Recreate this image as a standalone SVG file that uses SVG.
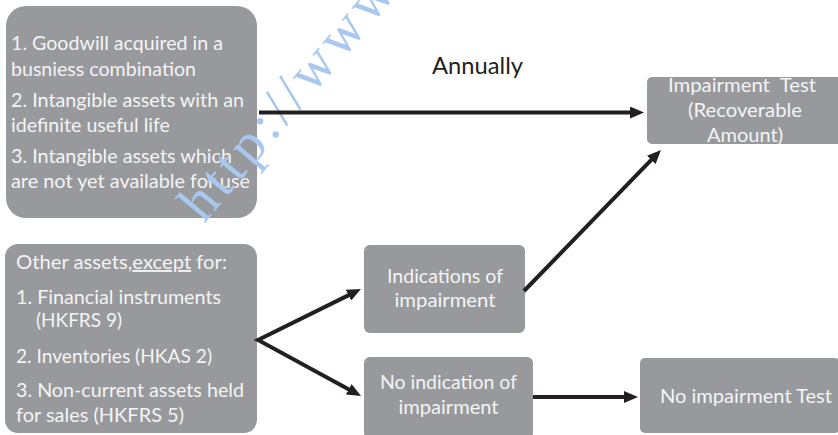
<svg xmlns="http://www.w3.org/2000/svg" width="838" height="435" viewBox="0 0 838 435">
<style>
.box{fill:#98999c}
.t{font-family:Lato,"Open Sans","Liberation Sans",sans-serif;font-size:19px;fill:#f4f4f4}
.c{text-anchor:middle}
.ln{stroke:#231f20;stroke-width:4;fill:none}
.wm{font-family:"Liberation Serif",serif;font-size:56px;fill:#a9c8f0}
</style>
<defs>
<marker id="ah" viewBox="0 0 14 12" refX="6" refY="6" markerWidth="14" markerHeight="12" markerUnits="userSpaceOnUse" orient="auto-start-reverse">
<path d="M0,0 L14,6 L0,12 z" fill="#231f20"/>
</marker>
</defs>
<rect width="838" height="435" fill="#ffffff"/>
<g id="node-annual-assets">
<rect class="box" x="6" y="6" width="251" height="212" rx="20"/>
<text class="t" x="11" y="50" textLength="212" lengthAdjust="spacingAndGlyphs">1. Goodwill acquired in a</text>
<text class="t" x="11" y="76" textLength="185" lengthAdjust="spacingAndGlyphs">busniess combination</text>
<text class="t" x="11" y="107" textLength="233" lengthAdjust="spacingAndGlyphs">2. Intangible assets with an</text>
<text class="t" x="11" y="132" textLength="159" lengthAdjust="spacingAndGlyphs">idefinite useful life</text>
<text class="t" x="11" y="163" textLength="221" lengthAdjust="spacingAndGlyphs">3. Intangible assets which</text>
<text class="t" x="11" y="188" textLength="239" lengthAdjust="spacingAndGlyphs">are not yet available for use</text>
</g>
<g id="node-other-assets">
<rect class="box" x="5" y="244" width="252" height="189" rx="13"/>
<text class="t" x="16" y="269" textLength="211" lengthAdjust="spacingAndGlyphs">Other assets,<tspan text-decoration="underline">except</tspan> for:</text>
<text class="t" x="16" y="304" textLength="205" lengthAdjust="spacingAndGlyphs">1. Financial instruments</text>
<text class="t" x="36" y="327" textLength="86" lengthAdjust="spacingAndGlyphs">(HKFRS 9)</text>
<text class="t" x="16" y="363" textLength="196" lengthAdjust="spacingAndGlyphs">2. Inventories (HKAS 2)</text>
<text class="t" x="16" y="397" textLength="228" lengthAdjust="spacingAndGlyphs">3. Non-current assets held</text>
<text class="t" x="16" y="422" textLength="168" lengthAdjust="spacingAndGlyphs">for sales (HKFRS 5)</text>
</g>
<g id="node-indications">
<rect class="box" x="364" y="245" width="161" height="88" rx="6"/>
<text class="t c" x="445" y="283" textLength="116" lengthAdjust="spacingAndGlyphs">Indications of</text>
<text class="t c" x="445" y="307" textLength="101" lengthAdjust="spacingAndGlyphs">impairment</text>
</g>
<g id="node-no-indication">
<rect class="box" x="364" y="357" width="169" height="82" rx="6"/>
<text class="t c" x="448.5" y="389" textLength="137" lengthAdjust="spacingAndGlyphs">No indication of</text>
<text class="t c" x="448.5" y="414" textLength="100" lengthAdjust="spacingAndGlyphs">impairment</text>
</g>
<g id="node-impairment-test">
<rect class="box" x="647" y="77" width="200" height="67" rx="5"/>
<text class="t c" x="742" y="92" xml:space="preserve" textLength="148" lengthAdjust="spacingAndGlyphs">Impairment  Test</text>
<text class="t c" x="745" y="117" textLength="114" lengthAdjust="spacingAndGlyphs">(Recoverable</text>
<text class="t c" x="745" y="142" textLength="76" lengthAdjust="spacingAndGlyphs">Amount)</text>
</g>
<g id="node-no-impairment-test">
<rect class="box" x="640" y="358" width="200" height="75" rx="5"/>
<text class="t c" x="746" y="403" textLength="172" lengthAdjust="spacingAndGlyphs">No impairment Test</text>
</g>
<text class="wm" transform="translate(204,224) rotate(-50)" letter-spacing="5">http://www</text>
<g id="connectors">
<line class="ln" x1="259" y1="112.5" x2="636" y2="112.5" marker-end="url(#ah)" stroke-width="4.5"/>
<text x="477.5" y="74" text-anchor="middle" font-family="Lato,'Open Sans','Liberation Sans',sans-serif" font-size="23" fill="#231f20" textLength="91" lengthAdjust="spacingAndGlyphs">Annually</text>
<path class="ln" d="M353.8,292.6 L258,340 L354,392.2" marker-start="url(#ah)" marker-end="url(#ah)" stroke-linejoin="miter"/>
<line class="ln" x1="524" y1="291" x2="655.4" y2="155.7" marker-end="url(#ah)"/>
<line class="ln" x1="533" y1="397" x2="630" y2="397" marker-end="url(#ah)"/>
</g>
</svg>
